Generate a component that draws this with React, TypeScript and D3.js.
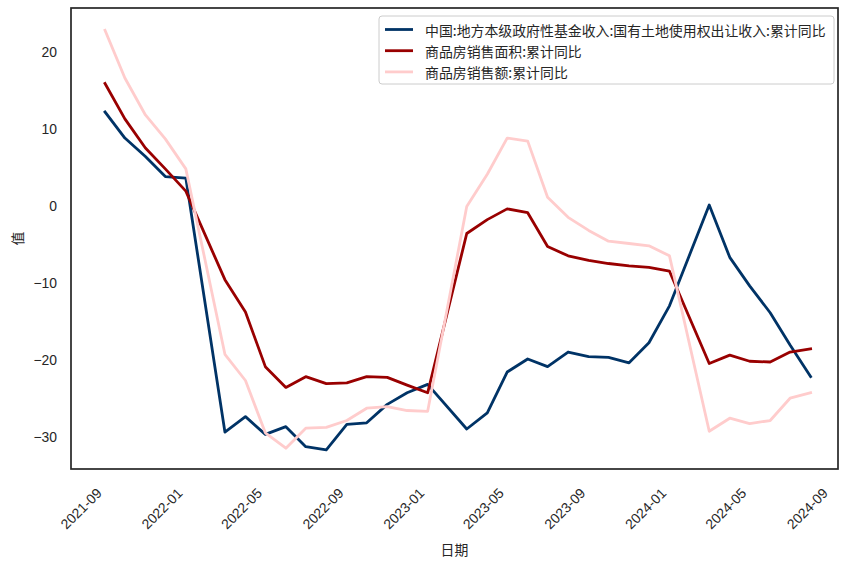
import React from "react";
import * as d3 from "d3";

const dates: string[] = [
  "2021-08-31", "2021-09-30", "2021-10-31", "2021-11-30", "2021-12-31",
  "2022-01-31", "2022-02-28", "2022-03-31", "2022-04-30", "2022-05-31",
  "2022-06-30", "2022-07-31", "2022-08-31", "2022-09-30", "2022-10-31",
  "2022-11-30", "2022-12-31", "2023-01-31", "2023-02-28", "2023-03-31",
  "2023-04-30", "2023-05-31", "2023-06-30", "2023-07-31", "2023-08-31",
  "2023-09-30", "2023-10-31", "2023-11-30", "2023-12-31", "2024-01-31",
  "2024-02-29", "2024-03-31", "2024-04-30", "2024-05-31", "2024-06-30",
  "2024-07-31",
];

const landRevenue: (number | null)[] = [
  12.2, 8.8, 6.4, 3.8, 3.6,
  null, -29.4, -27.4, -29.7, -28.7,
  -31.3, -31.7, -28.4, -28.2, -25.8,
  -24.3, -23.2, null, -29.0, -26.9,
  -21.6, -19.9, -20.9, -19.0, -19.6,
  -19.7, -20.4, -17.8, -13.0, null,
  0.1, -6.7, -10.4, -13.9, -18.1,
  -22.2,
];

const salesArea: (number | null)[] = [
  15.9, 11.3, 7.5, 4.8, 1.9,
  null, -9.6, -13.8, -20.9, -23.6,
  -22.2, -23.1, -23.0, -22.2, -22.3,
  -23.3, -24.3, null, -3.6, -1.8,
  -0.4, -0.9, -5.3, -6.5, -7.1,
  -7.5, -7.8, -8.0, -8.5, null,
  -20.5, -19.4, -20.2, -20.3, -19.0,
  -18.6,
];

const salesValue: (number | null)[] = [
  22.8, 16.6, 11.8, 8.7, 4.8,
  null, -19.3, -22.7, -29.5, -31.5,
  -28.9, -28.8, -27.9, -26.3, -26.1,
  -26.6, -26.7, null, -0.1, 4.1,
  8.8, 8.4, 1.1, -1.5, -3.2,
  -4.6, -4.9, -5.2, -6.5, null,
  -29.3, -27.6, -28.3, -27.9, -25.0,
  -24.3,
];

const seriesNames: string[] = [
  "中国:地方本级政府性基金收入:国有土地使用权出让收入:累计同比",
  "商品房销售面积:累计同比",
  "商品房销售额:累计同比",
];
const seriesColors: string[] = ["#003366", "#990000", "#ffcccc"];

const yTicks: number[] = [-30, -20, -10, 0, 10, 20];
const xLabel = "日期";
const yLabel = "值";

const W = 855;
const H = 566;
const left = 71;
const right = 838;
const top = 8;
const bottom = 469;

const parse = d3.utcParse("%Y-%m-%d");

export default function App() {
  const parsed = dates.map((d) => parse(d) as Date);
  const x = d3
    .scaleUtc()
    .domain([parsed[0], parsed[parsed.length - 1]])
    .range([105, 810.6]);
  const y = d3.scaleLinear().domain([-34.2, 25.7]).range([bottom, top]);

  const xTicks = d3.utcMonth
    .every(4)!
    .range(parse("2021-09-01") as Date, parse("2024-09-02") as Date);
  const fmt = d3.utcFormat("%Y-%m");

  const allSeries = [landRevenue, salesArea, salesValue];
  const line = d3
    .line<{ d: Date; v: number }>()
    .x((p) => x(p.d))
    .y((p) => y(p.v));

  const tickFont = "'Liberation Sans', Arial, sans-serif";
  const cjkFont = "'Noto Sans CJK SC', sans-serif";
  const textColor = "#262626";

  return (
    <svg
      width={W}
      height={H}
      style={{ position: "fixed", left: 0, top: 0, background: "#fff" }}
    >
      <rect x={0} y={0} width={W} height={H} fill="#fff" />
      {allSeries.map((vals, si) => {
        const pts = vals
          .map((v, i) => ({ d: parsed[i], v }))
          .filter((p) => p.v !== null) as { d: Date; v: number }[];
        return (
          <path
            key={si}
            d={line(pts) || ""}
            fill="none"
            stroke={seriesColors[si]}
            strokeWidth={2.8}
            strokeLinejoin="round"
            strokeLinecap="square"
          />
        );
      })}
      <rect
        x={left}
        y={top}
        width={right - left}
        height={bottom - top}
        fill="none"
        stroke={textColor}
        strokeWidth={1.7}
      />
      {yTicks.map((t) => (
        <text
          key={t}
          x={57}
          y={y(t)}
          textAnchor="end"
          dominantBaseline="central"
          fontFamily={tickFont}
          fontSize={13.9}
          fill={textColor}
        >
          {t < 0 ? "\u2212" + Math.abs(t) : String(t)}
        </text>
      ))}
      {xTicks.map((t, i) => (
        <text
          key={i}
          transform={`translate(${x(t) - 3},${494}) rotate(-45)`}
          textAnchor="end"
          fontFamily={tickFont}
          fontSize={13.9}
          fill={textColor}
        >
          {fmt(t)}
        </text>
      ))}
      <text
        x={(left + right) / 2}
        y={549}
        textAnchor="middle"
        dominantBaseline="central"
        fontFamily={cjkFont}
        fontSize={13.9}
        fill={textColor}
      >
        {xLabel}
      </text>
      <text
        transform={`translate(17,${(top + bottom) / 2}) rotate(-90)`}
        textAnchor="middle"
        dominantBaseline="central"
        fontFamily={cjkFont}
        fontSize={13.9}
        fill={textColor}
      >
        {yLabel}
      </text>
      <g>
        <rect
          x={379}
          y={16}
          width={455}
          height={68}
          rx={3}
          fill="#fff"
          fillOpacity={0.8}
          stroke="#cccccc"
          strokeWidth={1}
        />
        {seriesNames.map((n, i) => {
          const ry = 29.5 + i * 21.2;
          return (
            <g key={i}>
              <line
                x1={385}
                x2={413}
                y1={ry}
                y2={ry}
                stroke={seriesColors[i]}
                strokeWidth={2.8}
              />
              <text
                x={425}
                y={ry}
                dominantBaseline="central"
                fontFamily={cjkFont}
                fontSize={13.9}
                fill={textColor}
              >
                {n}
              </text>
            </g>
          );
        })}
      </g>
    </svg>
  );
}
